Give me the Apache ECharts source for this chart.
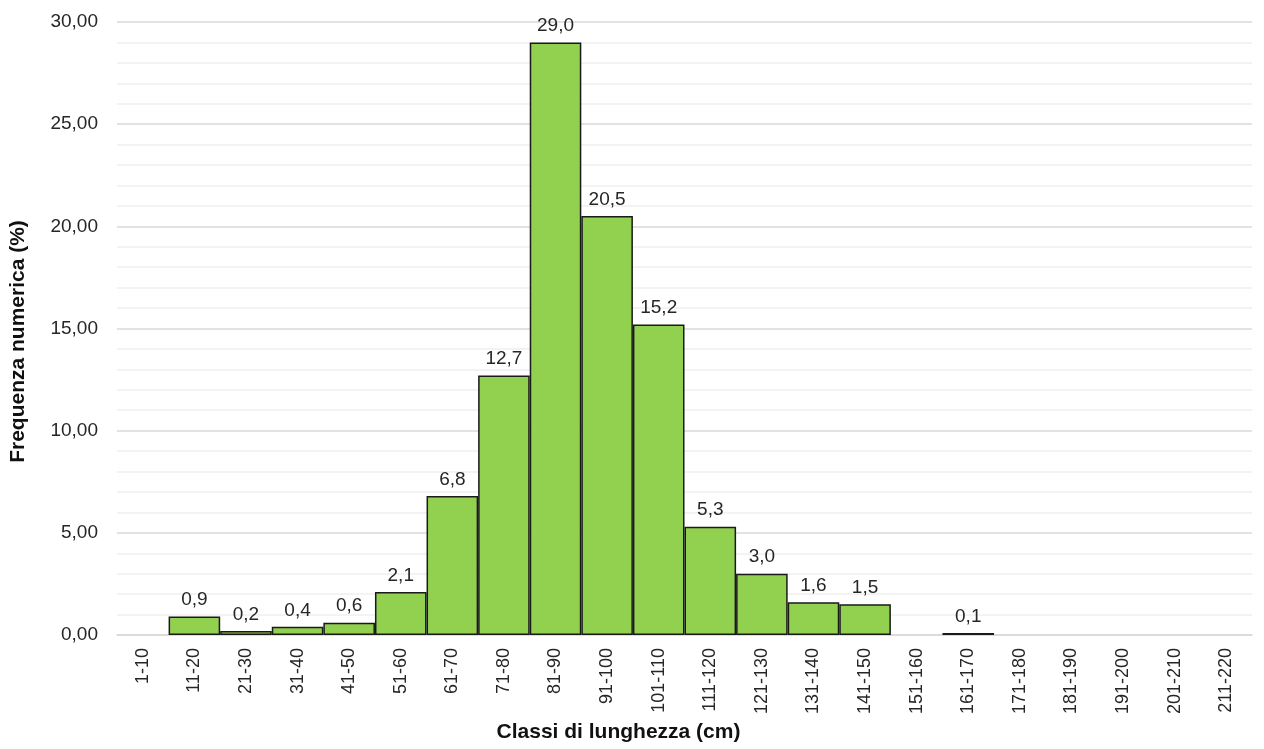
<!DOCTYPE html>
<html>
<head>
<meta charset="utf-8">
<script src="https://cdn.jsdelivr.net/npm/echarts@6/dist/echarts.min.js"></script>
<style>
  html, body { margin: 0; padding: 0; background: #fff; }
  #chart { width: 1264px; height: 749px; }
</style>
</head>
<body>
<div id="chart"></div>
<script>
// Length classes (cm)
const classes = ['1-10','11-20','21-30','31-40','41-50','51-60','61-70','71-80','81-90','91-100',
  '101-110','111-120','121-130','131-140','141-150','151-160','161-170','171-180','181-190',
  '191-200','201-210','211-220'];
// Numeric frequency (%) per class; null = no specimens
const frequency = [null, 0.9, 0.2, 0.4, 0.6, 2.1, 6.8, 12.7, 29.0, 20.5,
  15.2, 5.3, 3.0, 1.6, 1.5, null, 0.1, null, null, null, null, null];

const FONT = '"Liberation Sans Narrow", "Arial Narrow", "Liberation Sans", Arial, sans-serif';
const comma = (v, d) => v.toFixed(d).replace('.', ',');

const chart = echarts.init(document.getElementById('chart'));
chart.setOption({
  animation: false,
  grid: { left: 117, right: 12, top: 22, bottom: 114 },
  xAxis: {
    type: 'category',
    data: classes,
    name: 'Classi di lunghezza (cm)',
    nameLocation: 'middle',
    nameGap: 86,
    // title sits left of the plot centre
    nameTextStyle: { fontFamily: FONT, fontSize: 21, fontWeight: 'bold', color: '#111', padding: [0, 132, 0, 0] },
    axisLine: { show: true, lineStyle: { color: '#d9d9d9', width: 1.5 } },
    axisTick: { show: false },
    axisLabel: { rotate: 90, interval: 0, margin: 13, fontFamily: FONT, fontSize: 18, color: '#262626' }
  },
  yAxis: {
    type: 'value',
    min: 0, max: 30, interval: 5,
    name: 'Frequenza numerica (%)',
    nameLocation: 'middle',
    nameGap: 88,
    // title sits slightly below the plot centre
    nameTextStyle: { fontFamily: FONT, fontSize: 21, fontWeight: 'bold', color: '#111', padding: [0, 26, 0, 0] },
    axisLine: { show: false },
    axisTick: { show: false },
    axisLabel: { margin: 19, fontFamily: FONT, fontSize: 19, color: '#262626', formatter: v => comma(v, 2) },
    splitLine: { show: true, lineStyle: { color: '#d9d9d9', width: 1.5 } },
    minorTick: { show: false, splitNumber: 5 },
    minorSplitLine: { show: true, lineStyle: { color: '#efefef', width: 1.5 } }
  },
  series: [{
    type: 'bar',
    data: frequency,
    barCategoryGap: '0%',
    itemStyle: { color: '#92d050', borderColor: '#1a1a1a', borderWidth: 1.5 },
    label: {
      show: true, position: 'top', distance: 7,
      fontFamily: FONT, fontSize: 19, color: '#262626',
      formatter: p => (p.value == null ? '' : comma(p.value, 1))
    }
  }]
});
</script>
</body>
</html>
